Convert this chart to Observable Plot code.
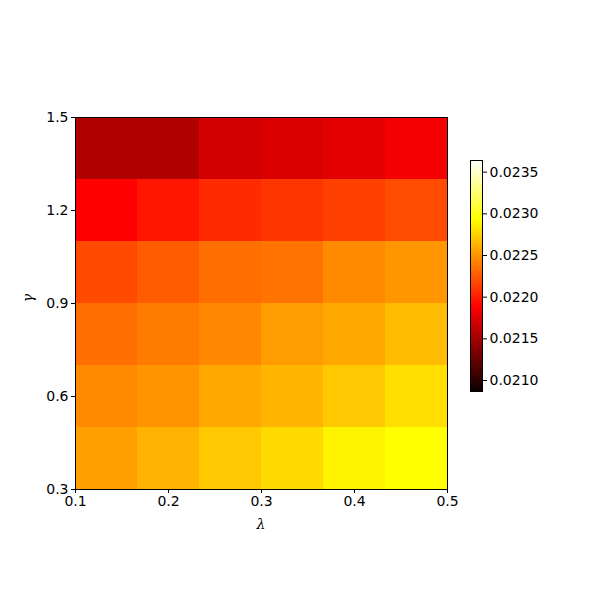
<!DOCTYPE html>
<html>
<head>
<meta charset="utf-8">
<script src="https://cdn.jsdelivr.net/npm/d3@7"></script>
<script src="https://cdn.jsdelivr.net/npm/@observablehq/plot@0.6"></script>
<style>
  body { margin: 0; background: white; }
  #wrap { position: relative; width: 600px; height: 600px; background: white; }
  #wrap svg { position: absolute; }
</style>
</head>
<body>
<div id="wrap"></div>
<script>
// Data: grid of values (rows from top gamma=1.5 down to gamma=0.3), columns lambda 0.1 -> 0.5
const lambdaExtent = [0.1, 0.5];
const gammaExtent = [0.3, 1.5];
const xTicks = [0.1, 0.2, 0.3, 0.4, 0.5];
const yTicks = [0.3, 0.6, 0.9, 1.2, 1.5];
const cbTicks = [0.0210, 0.0215, 0.0220, 0.0225, 0.0230, 0.0235];
const colorDomain = [0.020868, 0.02364];
const valuesTop = [
  [0.021553, 0.021553, 0.021694, 0.021731, 0.021764, 0.021838],
  [0.021880, 0.021967, 0.022054, 0.022100, 0.022145, 0.022195],
  [0.022186, 0.022261, 0.022335, 0.022356, 0.022451, 0.022501],
  [0.022335, 0.022393, 0.022443, 0.022526, 0.022576, 0.022658],
  [0.022451, 0.022493, 0.022576, 0.022625, 0.022708, 0.022800],
  [0.022542, 0.022617, 0.022708, 0.022783, 0.022891, 0.022940]
];

// matplotlib "hot" colormap
function hot(t) {
  t = Math.max(0, Math.min(1, t));
  const a = 0.365079, b = 0.746032;
  const r = t < a ? 0.0416 + (1 - 0.0416) * t / a : 1;
  const g = t < a ? 0 : t < b ? (t - a) / (b - a) : 1;
  const bl = t < b ? 0 : (t - b) / (1 - b);
  return `rgb(${Math.round(r*255)},${Math.round(g*255)},${Math.round(bl*255)})`;
}

const nRows = valuesTop.length, nCols = valuesTop[0].length;
const dx = (lambdaExtent[1] - lambdaExtent[0]) / nCols;
const dy = (gammaExtent[1] - gammaExtent[0]) / nRows;
const cells = [];
valuesTop.forEach((row, i) => row.forEach((v, j) => {
  cells.push({
    x1: lambdaExtent[0] + j * dx, x2: lambdaExtent[0] + (j + 1) * dx,
    y1: gammaExtent[1] - (i + 1) * dy, y2: gammaExtent[1] - i * dy,
    v
  });
}));

const colorOpts = {type: "linear", domain: colorDomain, interpolate: hot};
const font = "DejaVu Sans, sans-serif";

const main = Plot.plot({
  width: 600, height: 600,
  marginLeft: 75, marginRight: 153, marginTop: 117, marginBottom: 111,
  style: {fontFamily: font, fontSize: "14px", background: "white", color: "black"},
  x: {domain: lambdaExtent, ticks: xTicks, tickFormat: d3.format(".1f"), label: null},
  y: {domain: gammaExtent, ticks: yTicks, tickFormat: d3.format(".1f"), label: null},
  color: colorOpts,
  marks: [
    Plot.rect(cells, {x1: "x1", x2: "x2", y1: "y1", y2: "y2", fill: "v", inset: 0, shapeRendering: "crispEdges"}),
    Plot.frame({stroke: "black", strokeWidth: 1}),
    Plot.axisX({ticks: xTicks, tickFormat: d3.format(".1f"), tickSize: 4, tickPadding: 3, label: null, fontSize: 14, stroke: "black"}),
    Plot.axisY({ticks: yTicks, tickFormat: d3.format(".1f"), tickSize: 4, tickPadding: 3, label: null, fontSize: 14, stroke: "black"})
  ]
});
main.style.left = "0px"; main.style.top = "0px";

// axis titles
const ns = "http://www.w3.org/2000/svg";
function addText(svg, txt, x, y, rot) {
  const t = document.createElementNS(ns, "text");
  t.setAttribute("x", x); t.setAttribute("y", y);
  t.setAttribute("text-anchor", "middle");
  t.setAttribute("font-family", "DejaVu Serif, serif");
  t.setAttribute("font-style", "italic");
  t.setAttribute("font-size", "14");
  if (rot) t.setAttribute("transform", `rotate(-90 ${x} ${y})`);
  t.textContent = txt;
  svg.appendChild(t);
}
addText(main, "λ", 261, 529, false);
addText(main, "γ", 33, 298, true);

// colorbar
const cbSteps = d3.range(0, 200).map(i => {
  const a = colorDomain[0] + (colorDomain[1] - colorDomain[0]) * i / 200;
  const b = colorDomain[0] + (colorDomain[1] - colorDomain[0]) * (i + 1) / 200;
  return {a, b, v: (a + b) / 2};
});
const cb = Plot.plot({
  width: 110, height: 250,
  marginLeft: 15, marginRight: 83, marginTop: 10, marginBottom: 9,
  style: {fontFamily: font, fontSize: "14px", background: "transparent", color: "black"},
  x: {domain: [0, 1], axis: null},
  y: {domain: colorDomain, ticks: cbTicks, label: null},
  color: colorOpts,
  marks: [
    Plot.rect(cbSteps, {x1: 0, x2: 1, y1: "a", y2: "b", fill: "v", shapeRendering: "crispEdges"}),
    Plot.frame({stroke: "black", strokeWidth: 1}),
    Plot.axisY({anchor: "right", ticks: cbTicks, tickFormat: d3.format(".4f"), tickSize: 4, tickPadding: 3, label: null, fontSize: 14, stroke: "black"})
  ]
});
cb.style.left = "455px"; cb.style.top = "150px";

const wrap = document.getElementById("wrap");
wrap.appendChild(main);
wrap.appendChild(cb);
</script>
</body>
</html>
